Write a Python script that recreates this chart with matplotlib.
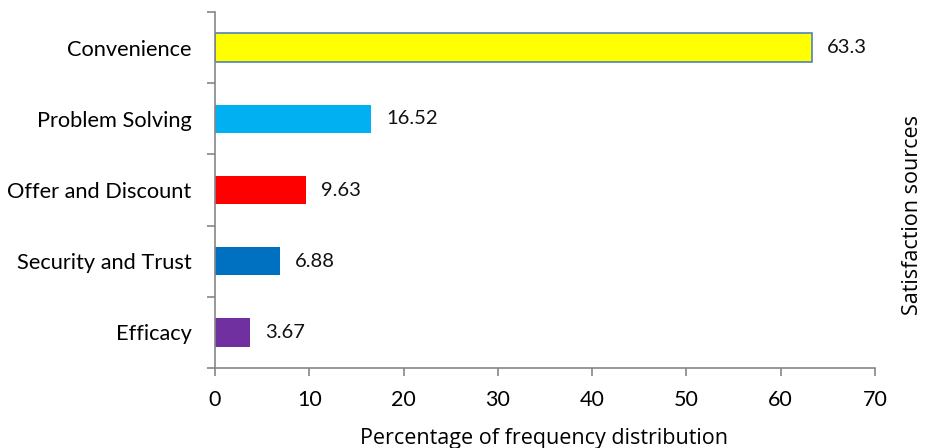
import matplotlib
matplotlib.use("Agg")
import matplotlib.pyplot as plt

categories = ["Convenience", "Problem Solving", "Offer and Discount",
              "Security and Trust", "Efficacy"]
values = [63.3, 16.52, 9.63, 6.88, 3.67]
value_labels = ["63.3", "16.52", "9.63", "6.88", "3.67"]
colors = ["#FFFF00", "#00B0F0", "#FF0000", "#0070C0", "#7030A0"]
edges = ["#4F81BD", "none", "none", "none", "none"]
x_ticks = [0, 10, 20, 30, 40, 50, 60, 70]

label_font = ["Lato", "DejaVu Sans"]
title_font = ["Open Sans", "DejaVu Sans"]
plt.rcParams["font.family"] = label_font

fig = plt.figure(figsize=(9.25, 4.48), dpi=100)
ax = fig.add_axes([215 / 925, 1 - 368 / 448, 660 / 925, 356 / 448])

ypos = list(range(len(categories)))[::-1]
bars = ax.barh(ypos, values, height=0.4, color=colors, edgecolor=edges,
               linewidth=1.2)
for b, lab in zip(bars, value_labels):
    ax.annotate(lab, (b.get_width(), b.get_y() + b.get_height() / 2),
                xytext=(11, 0), textcoords="offset points", va="center",
                ha="left", fontsize=14.5, color="#111111")

ax.set_xlim(0, 70)
ax.set_ylim(-0.5, len(categories) - 0.5)
ax.set_xticks(x_ticks)
ax.set_xticklabels([str(t) for t in x_ticks], fontsize=15.5)
ax.set_yticks(ypos)
ax.set_yticklabels(categories, fontsize=15.7)
ax.set_yticks([i - 0.5 for i in range(len(categories) + 1)], minor=True)
ax.tick_params(axis="y", which="major", length=0, pad=17)
ax.tick_params(axis="y", which="minor", length=6, color="#868686", width=1.2)
ax.tick_params(axis="x", length=6, color="#868686", width=1.2, pad=10)

for s in ["top", "right"]:
    ax.spines[s].set_visible(False)
for s in ["left", "bottom"]:
    ax.spines[s].set_color("#868686")
    ax.spines[s].set_linewidth(1.2)

fig.text(544 / 925, 10 / 448, "Percentage of frequency distribution",
         ha="center", va="center", fontsize=15.5, family=title_font)
fig.text(913 / 925, 0.52, "Satisfaction sources", rotation=90,
         va="center", ha="center", fontsize=15.5, family=title_font)

fig.savefig("out.png", dpi=100)
